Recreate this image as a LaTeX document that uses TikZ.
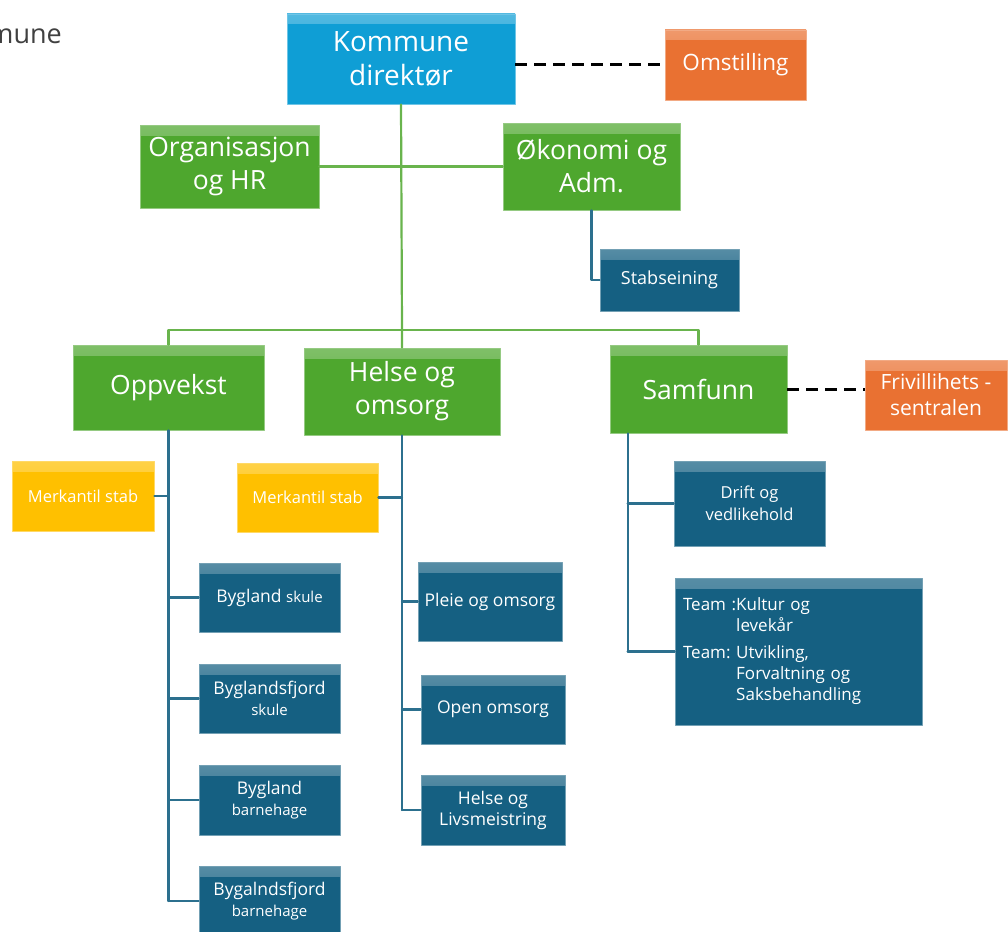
\documentclass[tikz,border=0pt]{standalone}
\usepackage{fontspec}
\setmainfont{Open Sans}
\definecolor{dirblue}{HTML}{0F9ED5}
\definecolor{orggreen}{HTML}{4EA72E}
\definecolor{unitblue}{HTML}{156082}
\definecolor{staborange}{HTML}{E97132}
\definecolor{merkyellow}{HTML}{FFC000}
\newcommand{\fsz}[2]{\fontsize{#1}{#2}\selectfont}
\begin{document}
\begin{tikzpicture}[x=1pt, y=-1pt, line cap=round, line join=round]
			\tikzset{box/.style={fill=#1, draw=#1!60!white, line width=0.8pt, text=white, align=center, inner sep=2pt,
					path picture={\shade[top color=#1!72!white, bottom color=#1] (path picture bounding box.north west) rectangle ([yshift=-10pt]path picture bounding box.north east);}},
				greenline/.style={draw=orggreen!85!white, line width=2.2pt},
				blueline/.style={draw=unitblue!90!white, line width=2.2pt},
				dashline/.style={draw=black, line width=3pt, line cap=butt, dash pattern=on 12pt off 7pt}}
			\useasboundingbox (0,0) rectangle (1008,931);
			\node[anchor=east, inner sep=0pt, text=black!75, font=\fsz{27}{30}] (title) at (62,33) {kommune};
			% top level
			\node[box=dirblue, minimum width=228, minimum height=90, font=\fsz{28}{34}] (dir) at (401,59) {Kommune\\direktør};
			\node[box=staborange, minimum width=141, minimum height=70, font=\fsz{22.5}{26}] (omst) at (735.5,65) {Omstilling};
			\node[box=orggreen, minimum width=179, minimum height=83, font=\fsz{26.5}{33}] (org) at (229.5,166.5) {Organisasjon\\og HR};
			\node[box=orggreen, minimum width=177, minimum height=87, font=\fsz{26.5}{33}] (oko) at (591.5,166.5) {Økonomi og\\Adm.};
			\node[box=unitblue, minimum width=139, minimum height=62, font=\fsz{18}{21}] (stab) at (669.5,280) {Stabseining};
			% sectors
			\node[box=orggreen, minimum width=191, minimum height=85, font=\fsz{26.5}{33}] (opp) at (168.5,387.5) {Oppvekst};
			\node[box=orggreen, minimum width=196, minimum height=87, font=\fsz{26.5}{33}] (helse) at (402,391.5) {Helse og\\omsorg};
			\node[box=orggreen, minimum width=177, minimum height=88, font=\fsz{26.5}{33}] (samf) at (698.5,389) {Samfunn};
			\node[box=staborange, minimum width=142, minimum height=70, font=\fsz{21}{26}] (friv) at (936,395) {Frivillihets -\\sentralen};
			\node[box=merkyellow, minimum width=142, minimum height=70, font=\fsz{16.5}{20}] (merk1) at (83,496) {Merkantil stab};
			\node[box=merkyellow, minimum width=141, minimum height=69, font=\fsz{16.5}{20}] (merk2) at (307.5,497.5) {Merkantil stab};
			% units
			\node[box=unitblue, minimum width=141, minimum height=69, font=\fsz{17.5}{21}] (bsk) at (269.5,597.5) {Bygland {\fsz{15}{19}skule}};
			\node[box=unitblue, minimum width=141, minimum height=69, font=\fsz{17.5}{21}] (bfsk) at (269.5,698.5) {Byglandsfjord\\{\fsz{15}{19}skule}};
			\node[box=unitblue, minimum width=141, minimum height=70, font=\fsz{17.5}{21}] (bbh) at (269.5,800) {Bygland\\{\fsz{15}{19}barnehage}};
			\node[box=unitblue, minimum width=141, minimum height=70, font=\fsz{17.5}{21}] (bfbh) at (269.5,901) {Bygalndsfjord\\{\fsz{15}{19}barnehage}};
			\node[box=unitblue, minimum width=144, minimum height=79, font=\fsz{17.5}{21}] (pleie) at (490,601.5) {Pleie og omsorg};
			\node[box=unitblue, minimum width=144, minimum height=69, font=\fsz{17.5}{21}] (open) at (493,709.5) {Open omsorg};
			\node[box=unitblue, minimum width=144, minimum height=70, font=\fsz{17.5}{21}] (livs) at (493,810) {Helse og\\Livsmeistring};
			\node[box=unitblue, minimum width=151, minimum height=85, font=\fsz{16.5}{22}] (drift) at (749.5,503.5) {Drift og\\vedlikehold};
			\node[box=unitblue, minimum width=247, minimum height=147, text width=231, inner sep=8pt, align=left, font=\fsz{17}{21}] (team) at (798.5,651.5)
				{\begin{tabular}{@{}l@{}l@{}}Team :&Kultur og\\&levekår\\[6pt]Team:\ &Utvikling,\\&Forvaltning og\\&Saksbehandling\end{tabular}};
			% green lines
			\coordinate (gbus) at (402,330);
			\draw[greenline] (dir.south) -- (gbus) -- (helse.north);
			\draw[greenline] (org.east) -- (org.east -| oko.west);
			\draw[greenline] (opp.north) |- (gbus) -| (samf.north);
			\draw[dashline] (dir.east |- omst.west) -- (omst.west);
			\draw[dashline] (samf.east) -- (samf.east -| friv.west);
			% blue lines
			\draw[blueline] (oko.south) |- (stab.west);
			\draw[blueline] (opp.south) -- (opp.south |- bfbh.west);
			\draw[blueline] (merk1.east) -- (opp.south |- merk1.east);
			\foreach \u in {bsk,bfsk,bbh,bfbh} \draw[blueline] (opp.south |- \u.west) -- (\u.west);
			\draw[blueline] (helse.south) -- (helse.south |- livs.west);
			\draw[blueline] (merk2.east) -- (helse.south |- merk2.east);
			\foreach \u in {pleie,open,livs} \draw[blueline] (helse.south |- \u.west) -- (\u.west);
			\coordinate (sbus) at ([xshift=18pt]samf.south west);
			\draw[blueline] (sbus) -- (sbus |- team.west);
			\foreach \u in {drift,team} \draw[blueline] (sbus |- \u.west) -- (\u.west);
		\end{tikzpicture}
\end{document}
